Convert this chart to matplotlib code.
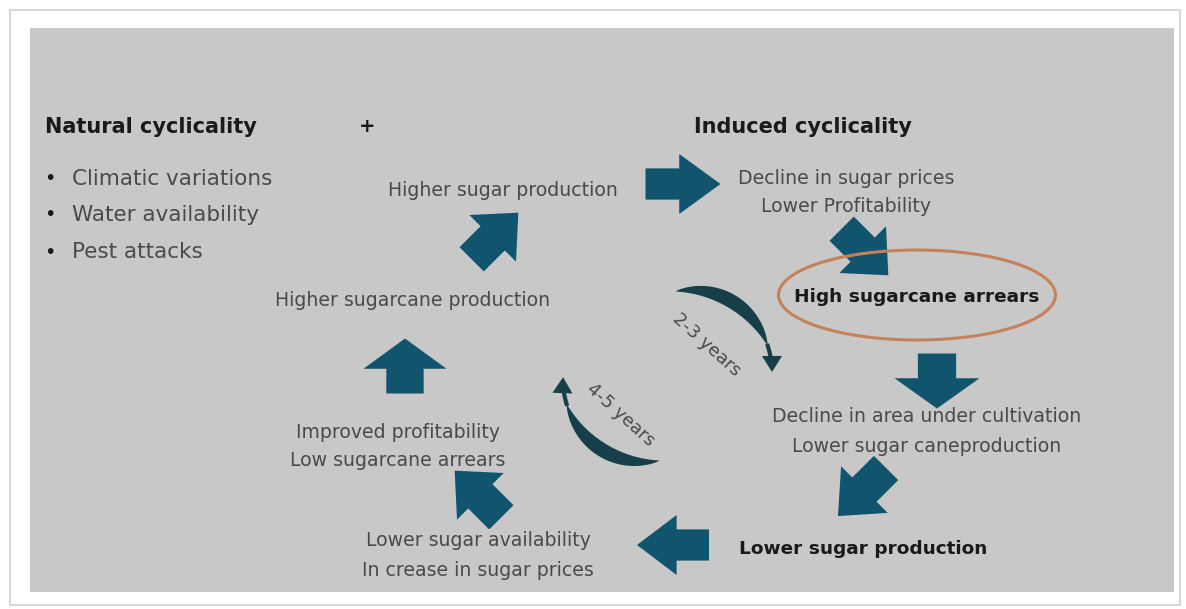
import numpy as np
import matplotlib.pyplot as plt
from matplotlib.patches import Polygon, Rectangle, Ellipse

W, H = 1186, 609

# cycle boxes: text lines, centre x, centre y of first line, bold?
box_lines = [
    (["Higher sugar production"], 503, 191, False),
    (["Decline in sugar prices", "Lower Profitability"], 846, 178, False),
    (["High sugarcane arrears"], 917, 297, True),
    (["Decline in area under cultivation", "Lower sugar caneproduction"], 927, 417, False),
    (["Lower sugar production"], 863, 549, True),
    (["Lower sugar availability", "In crease in sugar prices"], 478, 541, False),
    (["Improved profitability", "Low sugarcane arrears"], 398, 432, False),
    (["Higher sugarcane production"], 413, 300, False),
]
bullets = ["Climatic variations", "Water availability", "Pest attacks"]
bullet_y = [179, 215, 252]

# block arrows: centre x, centre y, direction (deg, counter-clockwise from east), length, head width
arrow_cx = [683, 865, 937, 862, 673, 478, 405, 495]
arrow_cy = [184, 252, 381, 492, 545, 494, 366, 236]
arrow_dir = [0, -45, -90, -135, 180, 135, 90, 45]
arrow_len = [75, 66, 55, 68, 72, 66, 55, 66]
arrow_hw = [60, 66, 85, 66, 60, 66, 83, 66]

arrow_col = "#11546e"
grey_txt = "#4a4a4a"

fig = plt.figure(figsize=(W / 100, H / 100), dpi=100)
ax = fig.add_axes([0, 0, 1, 1])
ax.set_xlim(0, W)
ax.set_ylim(H, 0)
ax.axis("off")

ax.add_patch(Rectangle((10, 10), 1170, 595, fc="white", ec="#d0d0d0", lw=1.2))
ax.add_patch(Rectangle((30, 28), 1144, 564, fc="#c8c8c8", ec="none"))


def block_arrow(cx, cy, ang, L, hw):
    w = hw * 0.45 if hw > 70 else hw * 0.52
    hl = L * 0.55
    pts = np.array([[-L / 2, -w / 2], [L / 2 - hl, -w / 2], [L / 2 - hl, -hw / 2],
                    [L / 2, 0], [L / 2 - hl, hw / 2], [L / 2 - hl, w / 2], [-L / 2, w / 2]])
    a = np.deg2rad(ang)
    rot = np.array([[np.cos(a), -np.sin(a)], [np.sin(a), np.cos(a)]])
    p = pts @ rot.T
    p[:, 1] = -p[:, 1]
    p += [cx, cy]
    ax.add_patch(Polygon(p, closed=True, fc=arrow_col, ec="none"))


for cx, cy, d, L, hw in zip(arrow_cx, arrow_cy, arrow_dir, arrow_len, arrow_hw):
    block_arrow(cx, cy, d, L, hw)


def swoosh(xc, yc, r, a0, a1, wmax, col="#163f4a"):
    # tapered arc (screen coords, y down) with small head at the a1 end
    t = np.linspace(0, 1, 60)
    ang = np.deg2rad(a0 + (a1 - a0) * t * 0.85)
    wid = wmax * np.sin(np.pi * np.clip(t * 1.05, 0, 1)) ** 0.8
    wid[-1] = 0
    x = xc + r * np.cos(ang)
    y = yc - r * np.sin(ang)
    nx, ny = np.cos(ang), -np.sin(ang)
    outer = np.c_[x + nx * wid / 2, y + ny * wid / 2]
    inner = np.c_[x - nx * wid / 2, y - ny * wid / 2]
    ax.add_patch(Polygon(np.vstack([outer, inner[::-1]]), closed=True, fc=col, ec="none"))
    # stem and head
    sgn = np.sign(a1 - a0)
    angs = np.deg2rad(np.linspace(a0 + (a1 - a0) * 0.8, a1 - sgn * 6, 10))
    ax.plot(xc + r * np.cos(angs), yc - r * np.sin(angs), color=col, lw=3, solid_capstyle="butt")
    ae = np.deg2rad(a1)
    tip = np.array([xc + r * np.cos(ae), yc - r * np.sin(ae)])
    tang = np.array([-np.sin(ae), -np.cos(ae)]) * sgn
    tang = tang / np.linalg.norm(tang)
    norm = np.array([-tang[1], tang[0]])
    base = tip - tang * 16
    ax.add_patch(Polygon([tip, base + norm * 10, base - norm * 10], closed=True, fc=col, ec="none"))


swoosh(690, 372, 82, 100, 0, 14)
swoosh(645, 380, 82, -80, -182, 14)

ax.text(707, 345, "2-3 years", rotation=-42, ha="center", va="center", fontsize=13, color=grey_txt)
ax.text(621, 415, "4-5 years", rotation=-42, ha="center", va="center", fontsize=13, color=grey_txt)

ax.add_patch(Ellipse((917, 295), 277, 90, fc="none", ec="#c5825a", lw=2.2))

ax.text(45, 127, "Natural cyclicality", fontsize=15, fontweight="bold", color="#1a1a1a", va="center")
ax.text(367, 127, "+", fontsize=14, fontweight="bold", color="#1a1a1a", va="center", ha="center")
ax.text(694, 127, "Induced cyclicality", fontsize=15, fontweight="bold", color="#1a1a1a", va="center")

for lab, yy in zip(bullets, bullet_y):
    ax.text(50, yy, "\u2022", fontsize=14, color="#1a1a1a", va="center", ha="center")
    ax.text(72, yy, lab, fontsize=15.5, color=grey_txt, va="center")

for lines, cx, cy, bold in box_lines:
    for i, s in enumerate(lines):
        ax.text(cx, cy + i * 29, s, ha="center", va="center", fontsize=13.3 if bold else 13.6,
                fontweight="bold" if bold else "normal", color="#1a1a1a" if bold else grey_txt)

fig.savefig("out.png", dpi=100, facecolor="white")
